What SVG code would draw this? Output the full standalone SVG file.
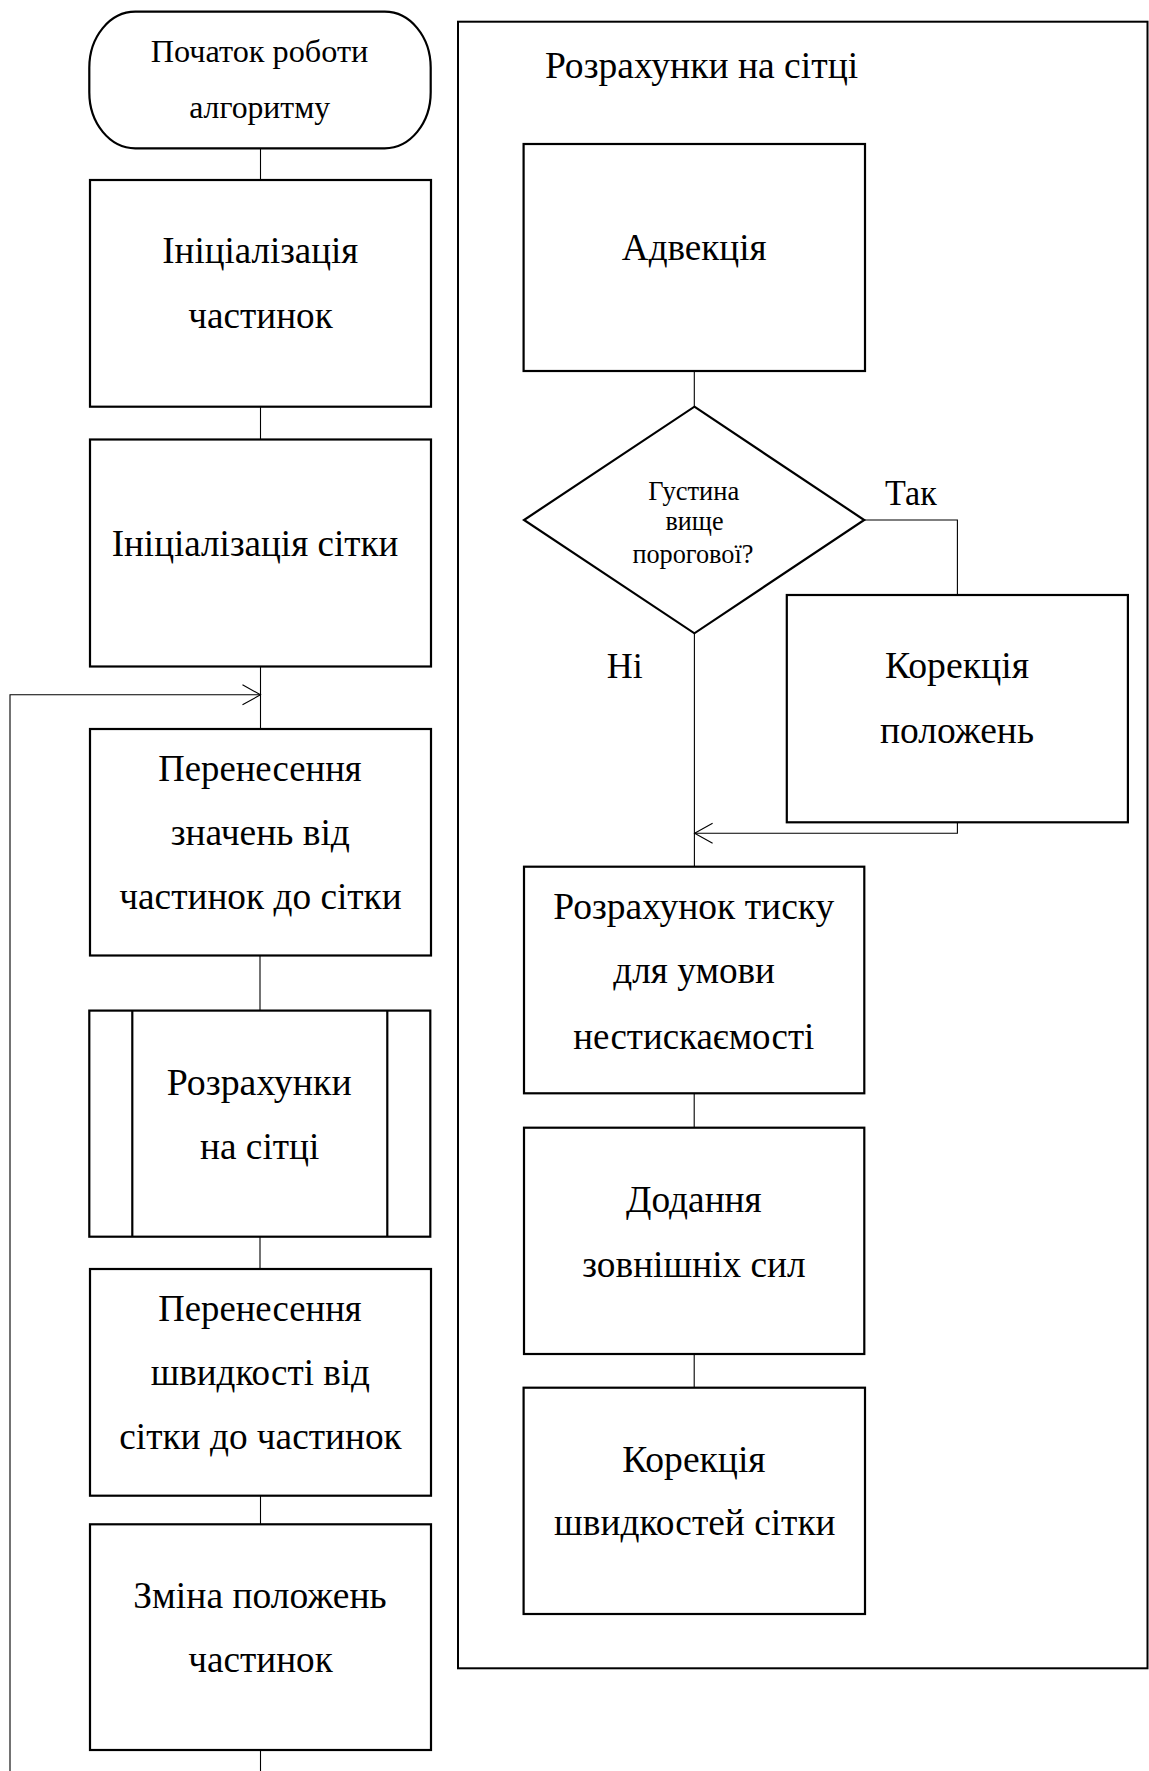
<svg xmlns="http://www.w3.org/2000/svg" width="1149" height="1771" viewBox="0 0 1149 1771">
  <style>
    .shape { fill: #ffffff; stroke: #000000; stroke-width: 2.2; }
    .frame { fill: none; stroke: #000000; stroke-width: 2; }
    .link { fill: none; stroke: #000000; stroke-width: 1.1; }
    text { font-family: "Liberation Serif", "Times New Roman", serif; fill: #000000; }
    .t { font-size: 37px; text-anchor: middle; }
    .ts { font-size: 32px; text-anchor: middle; }
    .td { font-size: 26.5px; text-anchor: middle; }
    .tl { font-size: 35px; }
    .title { font-size: 37.5px; }
  </style>
  <defs>
    <marker id="open-arrow" markerUnits="userSpaceOnUse" markerWidth="24" markerHeight="24" viewBox="-20 -12 24 24" refX="0" refY="0" orient="auto">
      <path d="M-18,-10 L0,0 L-18,10" fill="none" stroke="#000000" stroke-width="1.1"/>
    </marker>
  </defs>

  <rect width="1149" height="1771" fill="#ffffff"/>

  <!-- sub-process frame -->
  <g id="grid-frame">
    <rect class="frame" x="458" y="21.7" width="689.5" height="1646.6"/>
    <text class="title" x="544.9" y="78.3" textLength="313.3" lengthAdjust="spacingAndGlyphs">Розрахунки на сітці</text>
  </g>

  <!-- connectors -->
  <g id="connectors">
    <path class="link" d="M260.5,148.3 V180"/>
    <path class="link" d="M260.5,406.7 V439.5"/>
    <path class="link" d="M260.5,666.5 V729"/>
    <path class="link" d="M10,1771 V694.8 H260.5" marker-end="url(#open-arrow)"/>
    <path class="link" d="M260,955.5 V1010.6"/>
    <path class="link" d="M260,1236.7 V1269"/>
    <path class="link" d="M260.5,1495.7 V1524.3"/>
    <path class="link" d="M260.5,1750 V1771"/>
    <path class="link" d="M694.3,371 V406.7"/>
    <path class="link" d="M864.2,520 H957.4 V595"/>
    <path class="link" d="M694.4,633.3 V866.7"/>
    <path class="link" d="M957.4,822.3 V833.3 H694.6" marker-end="url(#open-arrow)"/>
    <path class="link" d="M694.2,1093.3 V1127.7"/>
    <path class="link" d="M694.2,1354 V1387.7"/>
  </g>

  <!-- main loop -->
  <g id="start">
    <rect class="shape" x="89.3" y="11.7" width="341.4" height="136.6" rx="46" ry="56"/>
    <text class="ts" x="259.5" y="61.7" textLength="217.6" lengthAdjust="spacingAndGlyphs">Початок роботи</text>
    <text class="ts" x="259.7" y="118.3" textLength="141" lengthAdjust="spacingAndGlyphs">алгоритму</text>
  </g>

  <g id="init-particles">
    <rect class="shape" x="90" y="180" width="341" height="226.7"/>
    <text class="t" x="260.3" y="263.3" textLength="196" lengthAdjust="spacingAndGlyphs">Ініціалізація</text>
    <text class="t" x="260.5" y="328.3" textLength="144.4" lengthAdjust="spacingAndGlyphs">частинок</text>
  </g>

  <g id="init-grid">
    <rect class="shape" x="90" y="439.5" width="341" height="227"/>
    <text class="t" x="255" y="556" textLength="286.7" lengthAdjust="spacingAndGlyphs">Ініціалізація сітки</text>
  </g>

  <g id="particles-to-grid">
    <rect class="shape" x="90" y="729" width="341" height="226.5"/>
    <text class="t" x="260" y="780.8" textLength="203.4" lengthAdjust="spacingAndGlyphs">Перенесення</text>
    <text class="t" x="260.3" y="844.5" textLength="179.3" lengthAdjust="spacingAndGlyphs">значень від</text>
    <text class="t" x="260.5" y="909.2" textLength="282.4" lengthAdjust="spacingAndGlyphs">частинок до сітки</text>
  </g>

  <g id="grid-step">
    <rect class="shape" x="89.3" y="1010.6" width="341" height="226.1"/>
    <line class="shape" x1="132.3" y1="1010.6" x2="132.3" y2="1236.7"/>
    <line class="shape" x1="387.3" y1="1010.6" x2="387.3" y2="1236.7"/>
    <text class="t" x="259.2" y="1095" textLength="185" lengthAdjust="spacingAndGlyphs">Розрахунки</text>
    <text class="t" x="259.7" y="1159" textLength="119.3" lengthAdjust="spacingAndGlyphs">на сітці</text>
  </g>

  <g id="grid-to-particles">
    <rect class="shape" x="90" y="1269" width="341" height="226.7"/>
    <text class="t" x="260" y="1320.7" textLength="203.4" lengthAdjust="spacingAndGlyphs">Перенесення</text>
    <text class="t" x="260.3" y="1385" textLength="219.3" lengthAdjust="spacingAndGlyphs">швидкості від</text>
    <text class="t" x="260.5" y="1449.3" textLength="282.4" lengthAdjust="spacingAndGlyphs">сітки до частинок</text>
  </g>

  <g id="move-particles">
    <rect class="shape" x="90" y="1524.3" width="341" height="225.7"/>
    <text class="t" x="260" y="1608.3" textLength="253.4" lengthAdjust="spacingAndGlyphs">Зміна положень</text>
    <text class="t" x="260.5" y="1671.7" textLength="144.4" lengthAdjust="spacingAndGlyphs">частинок</text>
  </g>

  <!-- grid sub-process -->
  <g id="advection">
    <rect class="shape" x="523.6" y="144" width="341.4" height="227"/>
    <text class="t" x="694.2" y="260" textLength="144.7" lengthAdjust="spacingAndGlyphs">Адвекція</text>
  </g>

  <g id="density-check">
    <polygon class="shape" points="694.4,406.7 864.2,520 694.4,633.3 524,520"/>
    <text class="td" x="693.7" y="500" textLength="91" lengthAdjust="spacingAndGlyphs">Густина</text>
    <text class="td" x="694.5" y="530" textLength="58" lengthAdjust="spacingAndGlyphs">вище</text>
    <text class="td" x="692.9" y="562.7" textLength="121" lengthAdjust="spacingAndGlyphs">порогової?</text>
  </g>

  <g id="branch-labels">
    <text class="tl" x="885" y="505" textLength="51.7" lengthAdjust="spacingAndGlyphs">Так</text>
    <text class="tl" x="606.8" y="678.3" textLength="36" lengthAdjust="spacingAndGlyphs">Ні</text>
  </g>

  <g id="position-fix">
    <rect class="shape" x="786.8" y="595" width="341.1" height="227.3"/>
    <text class="t" x="957" y="678.3" textLength="144" lengthAdjust="spacingAndGlyphs">Корекція</text>
    <text class="t" x="957" y="743.3" textLength="154" lengthAdjust="spacingAndGlyphs">положень</text>
  </g>

  <g id="pressure">
    <rect class="shape" x="524" y="866.7" width="340.3" height="226.6"/>
    <text class="t" x="693.8" y="919" textLength="281" lengthAdjust="spacingAndGlyphs">Розрахунок тиску</text>
    <text class="t" x="694.2" y="983.3" textLength="161.7" lengthAdjust="spacingAndGlyphs">для умови</text>
    <text class="t" x="693.8" y="1049" textLength="241" lengthAdjust="spacingAndGlyphs">нестискаємості</text>
  </g>

  <g id="external-forces">
    <rect class="shape" x="524" y="1127.7" width="340.3" height="226.3"/>
    <text class="t" x="693.9" y="1211.7" textLength="135.7" lengthAdjust="spacingAndGlyphs">Додання</text>
    <text class="t" x="694" y="1276.7" textLength="223.3" lengthAdjust="spacingAndGlyphs">зовнішніх сил</text>
  </g>

  <g id="velocity-fix">
    <rect class="shape" x="523.6" y="1387.7" width="341.4" height="226.3"/>
    <text class="t" x="693.9" y="1471.7" textLength="143.4" lengthAdjust="spacingAndGlyphs">Корекція</text>
    <text class="t" x="694.8" y="1535" textLength="281.6" lengthAdjust="spacingAndGlyphs">швидкостей сітки</text>
  </g>
</svg>
